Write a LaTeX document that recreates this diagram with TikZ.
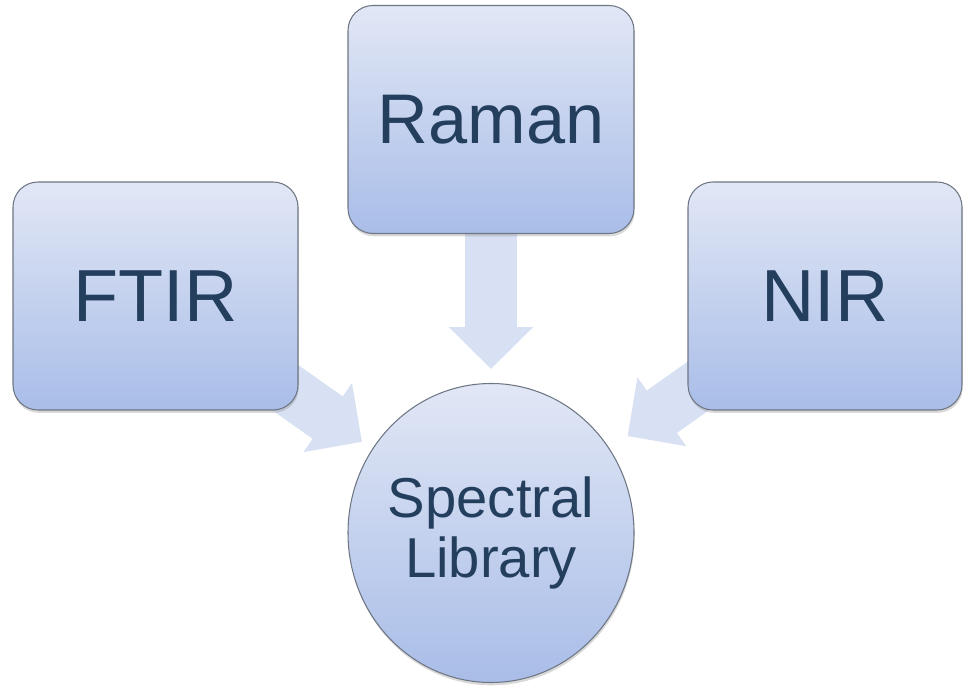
\documentclass[tikz,border=0pt]{standalone}
\usepackage{fontspec}
\setmainfont{Liberation Sans}
\usetikzlibrary{arrows.meta,shapes.geometric,shadows,backgrounds}

\definecolor{boxtop}{HTML}{E1E7F5}
\definecolor{boxbot}{HTML}{A9BDE8}
\definecolor{boxedge}{HTML}{6E7684}
\definecolor{arrowfill}{HTML}{D8E0F3}
\definecolor{labeltext}{HTML}{243F5E}

\tikzset{
  methodbox/.style={draw=boxedge, line width=0.6pt, rounded corners=0.5cm,
    top color=boxtop, bottom color=boxbot, text=labeltext,
    minimum height=4.56cm, inner sep=0pt,
    drop shadow={shadow xshift=0.4pt, shadow yshift=-1.6pt, opacity=0.3}},
  libnode/.style={ellipse, draw=boxedge, line width=0.6pt,
    top color=boxtop, bottom color=boxbot,
    minimum width=5.72cm, minimum height=5.98cm, inner sep=0pt,
    drop shadow={shadow xshift=0.4pt, shadow yshift=-1.6pt, opacity=0.3}},
  libtext/.style={text=labeltext, align=center, inner sep=0pt,
    font=\fontsize{32}{34}\selectfont},
  fatarrow/.style={draw=arrowfill, line width=1.04cm,
    -{Triangle[length=0.84cm 0 0, width=1.64cm 0 0]}}
}

\begin{document}
\begin{tikzpicture}
    \useasboundingbox (0,0) rectangle (19.26,-13.72);

    \node[methodbox, minimum width=5.7cm, font=\fontsize{42}{44}\selectfont] (ftir) at (3.11,-5.92) {FTIR};
    \node[methodbox, minimum width=5.72cm, font=\fontsize{40}{42}\selectfont] (raman) at (9.82,-2.39) {Raman};
    \node[methodbox, minimum width=5.48cm, font=\fontsize{42}{44}\selectfont] (nir) at (16.5,-5.92) {NIR};

    \node[libnode, label={[libtext]center:Spectral\\Library}] (lib) at (9.82,-10.66) {};

    \begin{scope}[on background layer]
        \draw[fatarrow, shorten >=3.16cm] (ftir.center) -- (lib.center);
        \draw[fatarrow, shorten >=3.28cm] (raman.center) -- (lib.center);
        \draw[fatarrow, shorten >=3.35cm] (nir.center) -- (lib.center);
    \end{scope}
\end{tikzpicture}
\end{document}
